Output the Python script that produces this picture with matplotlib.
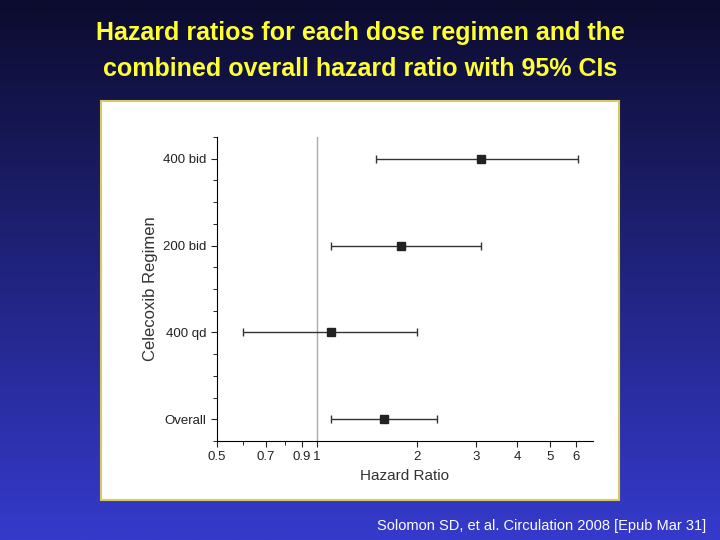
import matplotlib
matplotlib.use("Agg")
import matplotlib.pyplot as plt
import numpy as np
from matplotlib.patches import Rectangle
from matplotlib.ticker import FixedLocator, NullFormatter

plt.rcParams['font.family'] = ['Liberation Sans', 'DejaVu Sans']

categories = ["400 bid", "200 bid", "400 qd", "Overall"]
hr = [3.10, 1.79, 1.10, 1.59]
lo = [1.50, 1.10, 0.60, 1.10]
hi = [6.08, 3.10, 2.00, 2.30]
xticks = [0.5, 0.7, 0.9, 1, 2, 3, 4, 5, 6]
xticklabels = ["0.5", "0.7", "0.9", "1", "2", "3", "4", "5", "6"]
xminor = [0.6, 0.8]

fig = plt.figure(figsize=(7.2, 5.4), dpi=100)
bg = fig.add_axes([0, 0, 1, 1])
grad = np.linspace(0, 1, 256).reshape(-1, 1)
c0 = np.array([0x0c, 0x0c, 0x2e]) / 255
c1 = np.array([0x35, 0x3a, 0xcc]) / 255
img = c0 + (c1 - c0) * grad[..., None]
bg.imshow(img, aspect="auto", extent=[0, 1, 0, 1], origin="upper")
bg.set_xlim(0, 1); bg.set_ylim(0, 1); bg.axis("off")
bg.add_patch(Rectangle((101/720, 1-500/540), 518/720, 399/540, facecolor="white",
                       edgecolor="#d8c860", lw=1.5))
bg.text(0.5, 1-33/540, "Hazard ratios for each dose regimen and the", color="#ffff33",
        fontsize=18, fontweight="bold", ha="center", va="center")
bg.text(0.5, 1-69/540, "combined overall hazard ratio with 95% CIs", color="#ffff33",
        fontsize=18, fontweight="bold", ha="center", va="center")
bg.text(706/720, 1-526/540, "Solomon SD, et al. Circulation 2008 [Epub Mar 31]", color="white",
        fontsize=10.5, ha="right", va="center")

ax = fig.add_axes([217/720, 1-441/540, 376/720, 304/540])
ax.set_xscale("log")
ax.set_xlim(0.5, 6.75)
ax.set_ylim(-0.25, 3.25)
ys = [3, 2, 1, 0]
ax.axvline(1, color="#aaaaaa", lw=1, zorder=0)
for y, h, l, u in zip(ys, hr, lo, hi):
    ax.errorbar(h, y, xerr=[[h - l], [u - h]], fmt="s", color="#222222", ms=6,
                ecolor="#333333", elinewidth=1, capsize=3, capthick=1)
ax.xaxis.set_major_locator(FixedLocator(xticks))
ax.set_xticklabels(xticklabels)
ax.xaxis.set_minor_locator(FixedLocator(xminor))
ax.xaxis.set_minor_formatter(NullFormatter())
ax.set_yticks(ys)
ax.set_yticklabels(categories)
ax.yaxis.set_minor_locator(FixedLocator([v for v in np.arange(-0.25, 3.26, 0.25)]))
for s in ["top", "right"]:
    ax.spines[s].set_visible(False)
ax.tick_params(labelsize=9.5, colors="#222222", length=4)
ax.tick_params(which="minor", length=3)
ax.set_xlabel("Hazard Ratio", fontsize=11, color="#333333")
ax.set_ylabel("Celecoxib Regimen", fontsize=12, color="#333333")
ax.set_facecolor("white")
fig.savefig("out.png", dpi=100)
